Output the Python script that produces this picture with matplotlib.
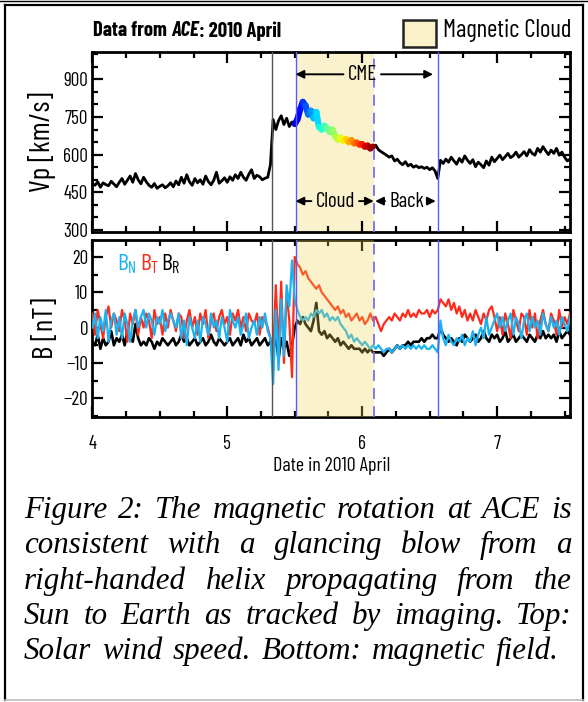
import matplotlib
matplotlib.use("Agg")
import matplotlib.pyplot as plt
import numpy as np
from matplotlib.collections import LineCollection
from matplotlib.patches import Rectangle
from matplotlib.lines import Line2D
from matplotlib.ticker import MultipleLocator

SANS = ['Barlow Condensed', 'Archivo Narrow', 'Liberation Sans Narrow', 'DejaVu Sans']
SERIF = ['Liberation Serif', 'STIXGeneral', 'DejaVu Serif']
plt.rcParams['font.family'] = SANS
plt.rcParams['mathtext.fontset'] = 'custom'
plt.rcParams['mathtext.rm'] = 'Barlow Condensed'
plt.rcParams['mathtext.it'] = 'Barlow Condensed:italic'

W, H = 588, 702

# ---- data (days in 2010 April, 0.02 day steps) ----
days = np.round(np.arange(4.0, 7.541, 0.02), 2)

vp = [485, 478, 492, 470, 488, 481, 476, 494, 483, 472,
      490, 505, 482, 498, 515, 490, 525, 500, 484, 510,
      492, 478, 470, 485, 466, 474, 480, 468, 476, 488,
      472, 495, 480, 510, 486, 520, 492, 478, 505, 488,
      500, 482, 515, 493, 480, 498, 530, 486, 496, 508,
      490, 512, 498, 520, 505, 530, 510, 498, 522, 540,
      505, 518, 512, 500, 506, 510, 560, 740, 700, 735,
      755, 720, 745, 712, 730, 722, 740, 780, 810, 795,
      760, 775, 745, 770, 710, 700, 715, 705, 690, 700,
      672, 660, 668, 655, 662, 650, 658, 645, 648, 640,
      642, 632, 636, 625, 632, 638, 620, 612, 605, 598,
      590, 595, 575, 582, 568, 560, 572, 555, 562, 550,
      556, 548, 552, 545, 550, 540, 548, 535, 505, 578,
      565, 582, 570, 590, 575, 562, 585, 570, 595, 578,
      565, 580, 552, 570, 560, 548, 575, 558, 590, 572,
      585, 598, 580, 592, 605, 588, 596, 610, 590, 600,
      612, 595, 620, 605, 598, 625, 610, 632, 615, 600,
      618, 605, 625, 598, 610, 590, 575, 582]

b_t = [4, -2, 5, 1, -3, 3, 6, 0, 4, 2,
       -1, 5, 2, -4, 4, 1, 5, -2, 3, 0,
       4, 2, -3, 5, 1, 3, -2, 4, 0, 5,
       2, -1, 4, 3, -3, 2, 5, 0, 3, -2,
       4, 1, 5, -3, 2, 4, -1, 3, 5, 1,
       3, -2, 4, 2, 5, 0, 3, -1, 4, 2,
       1, 4, -2, 3, 2, 0, -3, -8, 12, -6,
       13, -10, 10, 2, -14, 20, 18, 17, 15, 16,
       14, 13, 12, 11, 12, 10, 9, 8, 7, 6,
       5, 6, 4, 5, 3, 4, 2, 3, 4, 2,
       3, 1, 2, 4, 2, 3, 1, -1, 1, 2,
       3, 2, 4, 3, 2, 4, 3, 5, 3, 4,
       3, 5, 4, 4, 5, 3, 5, 4, 5, 8,
       7, 6, 8, 5, 7, 4, 6, 3, 5, 2,
       4, 2, 5, 3, 1, 4, 2, 5, 6, 3,
       -1, 3, -2, 4, 1, -3, 5, 2, -1, 4,
       3, -2, 5, 0, 4, -3, 2, 5, 1, -1,
       4, 2, -2, 5, 0, 3, 1, 4]

b_n = [0, 4, -3, 3, -1, 5, -4, 2, 4, -2,
       3, -3, 4, 1, -4, 2, 5, 0, 3, 5,
       0, 4, 2, -2, 3, 1, 5, -1, 2, 4,
       2, 0, 4, -3, 2, -5, 3, 0, -3, 2,
       -4, 3, 1, -2, 4, 0, 2, -3, 3, 0,
       -4, 5, 2, 0, 3, -2, 1, 4, -3, 0,
       2, -2, 3, 0, 4, -1, -3, -16, 5, -12,
       8, -8, 12, 6, 19, 8, 5, 3, 2, 3,
       2, 4, 3, 5, 4, 5, 3, 4, 2, 3,
       2, 3, 1, 0, -1, -3, -2, -4, -3, -4,
       -5, -4, -5, -6, -5, -6, -5, -6, -7, -6,
       -6, -7, -6, -5, -6, -5, -6, -5, -6, -5,
       -6, -5, -6, -5, -6, -6, -5, -6, -7, 2,
       -3, -5, -2, -4, -5, -3, -4, -2, -5, -3,
       -4, -1, -5, -2, 0, -3, 3, -2, 0, 2,
       4, 0, 3, -1, 2, 4, -2, 3, 1, -3,
       2, 4, -1, 3, 0, 2, -2, 4, 1, -1,
       3, 0, 2, -2, 3, 1, -1, 3]

b_r = [-4, -5, -2, -6, -3, -5, -4, -1, -5, -3,
       -4, -2, -5, -1, -3, -4, 1, -3, -5, -4,
       -5, -3, -4, -6, -4, -5, -3, -4, -5, -4,
       -3, -5, -4, -2, -4, -3, -5, -4, -3, -5,
       -4, -3, -5, -4, -2, -4, -5, -3, -4, -5,
       -4, -3, -5, -4, -3, -5, -2, -4, -3, -5,
       -4, -3, -5, -4, -3, -5, -4, -7, -2, -9,
       -3, -6, -4, -8, -5, 0, 2, 1, 3, 1,
       0, -1, 2, 7, -1, -2, -1, -3, -2, -3,
       -4, -3, -5, -4, -5, -6, -5, -6, -6, -6,
       -7, -6, -7, -6, -7, -7, -7, -7, -8, -7,
       -6, -7, -6, -5, -6, -5, -5, -4, -5, -4,
       -4, -4, -3, -4, -3, -3, -2, -3, -3, 0,
       -2, -3, -4, -3, -4, -5, -3, -4, -2, -3,
       -4, -3, -2, -4, -3, -1, -3, -4, -2, -3,
       -2, -4, -3, -1, -4, -3, -2, -4, -3, -2,
       -3, -4, -2, -3, -4, -2, -3, -1, -3, -2,
       -3, -2, -4, -1, -3, -2, -1, -2]

shock = 5.333
cloud_start = 5.506
cloud_end = 6.086
cme_end = 6.561

caption_lines = [
    "Figure 2: The magnetic rotation at ACE is",
    "consistent with a glancing blow from a",
    "right-handed helix propagating from the",
    "Sun to Earth as tracked by imaging. Top:",
    "Solar wind speed. Bottom: magnetic field.",
]

fig = plt.figure(figsize=(W / 100, H / 100), dpi=100)
fig.patch.set_facecolor('white')
renderer = fig.canvas.get_renderer()


def width_px(txt, size, **props):
    t = fig.text(0, 0, txt, fontsize=size, **props)
    w = t.get_window_extent(renderer).width
    t.remove()
    return w


def fit(txt, target, **props):
    # font size that makes txt about target pixels wide
    return 10 * target / width_px(txt, 10, **props)


tick_fs = fit('900', 25)
xlab_fs = fit('Date in 2010 April', 117)
ylab_fs = fit('Vp [km/s]', 100)
ann_fs = fit('Cloud', 40)


def px_axes(l, t, r, b):
    return fig.add_axes([l / W, 1 - b / H, (r - l) / W, (b - t) / H])


ax1 = px_axes(92.3, 51.7, 570, 232)
ax2 = px_axes(92.3, 240, 570, 417)

for ax in (ax1, ax2):
    ax.set_xlim(4, 7.54)
    ax.xaxis.set_major_locator(MultipleLocator(1))
    ax.xaxis.set_minor_locator(MultipleLocator(0.25))
    ax.tick_params(which='both', direction='in', top=True, right=True, width=1.6)
    ax.tick_params(which='major', length=8, labelsize=tick_fs)
    ax.tick_params(axis='y', which='major', pad=3)
    ax.tick_params(axis='x', which='major', pad=13)
    ax.tick_params(which='minor', length=4.5)
    for s in ax.spines.values():
        s.set_linewidth(2)
    ax.axvline(shock, color='#555555', lw=1.0, zorder=6)
    ax.axvline(cloud_start, color='#5a5aff', lw=1.0, zorder=6)
    ax.axvline(cme_end, color='#5a5aff', lw=1.0, zorder=6)
    ax.axvline(cloud_end, color='#7a6ee6', lw=1.3, ls=(0, (6, 4)), zorder=6)

# ---- top panel: solar wind speed ----
ax1.set_ylim(292, 1010)
ax1.yaxis.set_major_locator(MultipleLocator(150))
ax1.yaxis.set_minor_locator(MultipleLocator(50))
ax1.tick_params(labelbottom=False)
ax1.axvspan(cloud_start, cloud_end, color='#faf2cc', lw=0, zorder=0)
ax1.plot(days, vp, color='black', lw=2.0, zorder=2)

# the cloud interval of Vp is coloured along time with a rainbow map
sel = (days >= 5.5) & (days <= 6.08)
pts = np.column_stack([days[sel], np.array(vp)[sel]])
segs = np.stack([pts[:-1], pts[1:]], axis=1)
lc = LineCollection(segs, cmap='jet', linewidths=4.5, capstyle='round', zorder=3)
lc.set_array(np.linspace(0.08, 0.98, len(segs)))
lc.set_clim(0, 1)
ax1.add_collection(lc)
ax1.set_ylabel('Vp [km/s]', fontsize=ylab_fs, labelpad=5)

arrow = dict(arrowstyle='-|>', color='black', lw=1.4, mutation_scale=12, shrinkA=1, shrinkB=0)
for (txt, xc, x0, x1, yv) in [('CME', 6.0, cloud_start, 6.525, 920),
                              ('Cloud', 5.8, cloud_start, cloud_end, 415),
                              ('Back', 6.33, cloud_end + 0.01, 6.545, 415)]:
    ax1.annotate(txt, xy=(x0, yv), xytext=(xc, yv), ha='center', va='center',
                 fontsize=ann_fs, arrowprops=arrow, zorder=7)
    ax1.annotate(txt, xy=(x1, yv), xytext=(xc, yv), ha='center', va='center',
                 fontsize=ann_fs, color='none', arrowprops=arrow, zorder=7)

# ---- bottom panel: magnetic field ----
ax2.set_ylim(-25.3, 24.8)
ax2.yaxis.set_major_locator(MultipleLocator(10))
ax2.yaxis.set_minor_locator(MultipleLocator(5))
ax2.plot(days, b_r, color='black', lw=1.9, zorder=2)
ax2.plot(days, b_t, color='#ff2a1a', lw=1.6, zorder=3)
ax2.plot(days, b_n, color='#1ab2f0', lw=1.6, zorder=4)
ax2.axvspan(cloud_start, cloud_end, color='#edd454', alpha=0.3, lw=0, zorder=5)
ax2.set_ylabel('B [nT]', fontsize=ylab_fs, labelpad=3)
ax2.set_xlabel('Date in 2010 April', fontsize=xlab_fs, labelpad=3)
for txt, col, xx in [(r'B$_\mathrm{N}$', '#1ab2f0', 4.183), (r'B$_\mathrm{T}$', '#ff2a1a', 4.355),
                     (r'B$_\mathrm{R}$', 'black', 4.512)]:
    ax2.text(xx, 18.0, txt, color=col, fontsize=ann_fs * 1.12, va='center')

# ---- header: title and legend ----
title_pieces = [('Data from ', dict(fontweight='bold')),
                ('ACE', dict(fontweight='bold', fontstyle='italic')),
                (': 2010 April', dict(fontweight='bold'))]
title_fs = 10 * 188 / sum(width_px(t, 10, **s) for t, s in title_pieces)
x = 93
for txt, style in title_pieces:
    t = fig.text(x / W, 1 - 31 / H, txt, va='center', ha='left', fontsize=title_fs, **style)
    x += t.get_window_extent(renderer).width

fig.patches.append(Rectangle((403 / W, 1 - 47 / H), 33 / W, 27 / H, transform=fig.transFigure,
                             facecolor='#faf1c8', edgecolor='#222222', lw=1.8))
fig.text(443 / W, 1 - 31 / H, 'Magnetic Cloud', fontsize=fit('Magnetic Cloud', 129),
         va='center', ha='left')

# ---- caption, justified ----
CAP = dict(family=SERIF, style='italic')
cap_fs = fit(caption_lines[-1], 522, **CAP)
x_left, x_right = 24, 572
y0, dy = 518, 35.3
for i, line in enumerate(caption_lines):
    words = line.split(' ')
    yb = 1 - (y0 + i * dy) / H
    texts = [fig.text(0, yb, w_, va='baseline', ha='left', fontsize=cap_fs, **CAP) for w_ in words]
    widths = [t.get_window_extent(renderer).width for t in texts]
    right = x_right if i < len(caption_lines) - 1 else 559
    gap = (right - x_left - sum(widths)) / (len(words) - 1)
    x = x_left
    for t, wd in zip(texts, widths):
        t.set_x(x / W)
        x += wd + gap


# ---- outer frame ----
def fline(xs, ys, **kw):
    fig.add_artist(Line2D([v / W for v in xs], [1 - v / H for v in ys],
                          transform=fig.transFigure, **kw))


fline([5, 5], [5, 700], color='black', lw=1.6)
fline([5, 583], [5, 5], color='black', lw=1.6)
fline([0, W], [1, 1], color='black', lw=1.0)
fline([583, 583], [5, 700], color='black', lw=1.6)
fline([5, 583], [700, 700], color='#bbbbbb', lw=1.2)

fig.savefig('out.png', dpi=100)
